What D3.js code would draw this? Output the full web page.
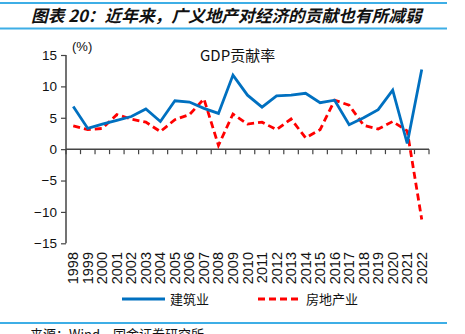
<!DOCTYPE html>
<html><head><meta charset="utf-8">
<script src="https://cdn.jsdelivr.net/npm/d3@7"></script>
<style>
body{margin:0;background:#fff;}
svg{display:block;font-family:"Liberation Sans",Arial,sans-serif;}
</style></head>
<body>
<svg id="c" width="465" height="334"></svg>
<script>
const years = ["1998","1999","2000","2001","2002","2003","2004","2005","2006","2007","2008","2009","2010","2011","2012","2013","2014","2015","2016","2017","2018","2019","2020","2021","2022"];
const construction = [6.8,3.3,4.0,4.6,5.2,6.4,4.4,7.7,7.5,6.5,5.7,11.8,8.6,6.7,8.5,8.6,8.9,7.4,7.8,3.9,5.0,6.3,9.4,0.9,12.7];
const realEstate = [3.7,3.1,3.3,5.5,4.8,4.3,2.8,4.7,5.5,8.0,0.6,5.6,4.0,4.3,3.1,4.8,1.8,3.1,7.8,7.0,3.8,3.2,4.4,2.9,-11.2];
const yTicks = [15,10,5,0,-5,-10,-15];
const seriesNames = ["建筑业","房地产业"];
const seriesColors = ["#0070C0","#FF0000"];

const svg = d3.select("#c");
const x = d3.scaleBand().domain(years).range([66,429]);
const y = d3.scaleLinear().domain([-15,15]).range([243.3,55]);

// title bars
svg.append("line").attr("x1",0).attr("x2",447).attr("y1",3).attr("y2",3).attr("stroke","#3DAEE6").attr("stroke-width",2);
svg.append("line").attr("x1",0).attr("x2",447).attr("y1",28.5).attr("y2",28.5).attr("stroke","#3DAEE6").attr("stroke-width",2);
svg.append("text").attr("x",31).attr("y",21.5)
  .attr("font-family","'Noto Sans CJK SC',sans-serif").attr("font-size",16.7).attr("font-weight","bold").attr("font-style","italic")
  .attr("fill","#111").text("图表 20：近年来，广义地产对经济的贡献也有所减弱");

// y axis
const yAxis = d3.axisLeft(y).tickValues(yTicks).tickSize(5).tickPadding(4).tickFormat(d3.format("d"));
const ga = svg.append("g").attr("transform","translate(66,0)").call(yAxis);
ga.select(".domain").attr("stroke","#444").attr("stroke-width",1.5).attr("d","M0,55V243.3");
ga.selectAll(".tick line").attr("stroke","#444").attr("stroke-width",1.2);
ga.selectAll("text").attr("font-size",13.5).attr("fill","#111").attr("font-family","'Liberation Sans',Arial,sans-serif");

// x axis line at 0 with ticks between categories
const xl = svg.append("g");
xl.append("line").attr("x1",66).attr("x2",429).attr("y1",y(0)).attr("y2",y(0)).attr("stroke","#444").attr("stroke-width",1.5);
const boundaries = years.map(d=>x(d)).concat([x(years[years.length-1])+x.bandwidth()]);
xl.selectAll("line.tk").data(boundaries).join("line").attr("class","tk")
  .attr("x1",d=>d).attr("x2",d=>d).attr("y1",y(0)).attr("y2",y(0)+5).attr("stroke","#444").attr("stroke-width",1.2);
// x labels at bottom
svg.append("g").selectAll("text").data(years).join("text")
  .attr("transform",d=>`translate(${x(d)+x.bandwidth()/2+5},252) rotate(-90)`)
  .attr("text-anchor","end").attr("font-size",14.5).attr("fill","#111").text(d=>d);

// lines
const line = d3.line().x((d,i)=>x(years[i])+x.bandwidth()/2).y(d=>y(d));
svg.append("path").datum(realEstate).attr("d",line).attr("fill","none").attr("stroke",seriesColors[1]).attr("stroke-width",2.8).attr("stroke-dasharray","7,4");
svg.append("path").datum(construction).attr("d",line).attr("fill","none").attr("stroke",seriesColors[0]).attr("stroke-width",2.8).attr("stroke-linejoin","miter");

// annotations
svg.append("text").attr("x",72).attr("y",51).attr("font-size",13).attr("fill","#111").text("(%)");
svg.append("text").attr("x",200).attr("y",61).attr("font-size",15).attr("fill","#111")
  .attr("font-family","'Noto Sans CJK SC',sans-serif").text("GDP贡献率");

// legend
const lg = [{x1:122,x2:165,tx:170},{x1:258,x2:302,tx:306}];
lg.forEach((l,i)=>{
  svg.append("line").attr("x1",l.x1).attr("x2",l.x2).attr("y1",299).attr("y2",299).attr("stroke",seriesColors[i]).attr("stroke-width",3)
    .attr("stroke-dasharray",i===1?"7,4":null);
  svg.append("text").attr("x",l.tx).attr("y",304).attr("font-size",13).attr("fill","#111")
    .attr("font-family","'Noto Sans CJK SC',sans-serif").text(seriesNames[i]);
});

// bottom
svg.append("line").attr("x1",0).attr("x2",447).attr("y1",323).attr("y2",323).attr("stroke","#3DAEE6").attr("stroke-width",2);
svg.append("text").attr("x",30).attr("y",339).attr("font-size",13).attr("fill","#111")
  .attr("font-family","'Noto Sans CJK SC',sans-serif").text("来源：Wind，国金证券研究所");
</script>
</body></html>
